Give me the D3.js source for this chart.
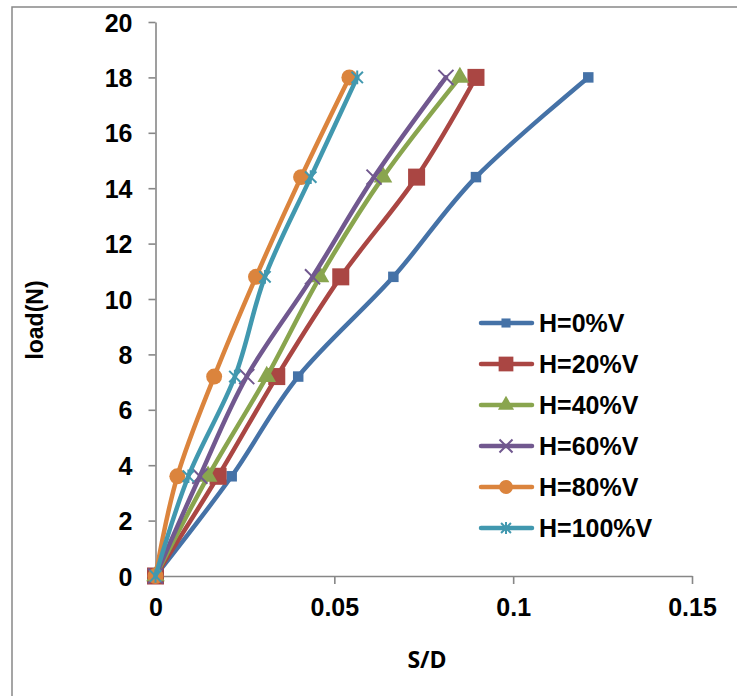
<!DOCTYPE html>
<html>
<head>
<meta charset="utf-8">
<script src="https://cdn.jsdelivr.net/npm/d3@7"></script>
<style>
  body { margin: 0; background: #fff; }
  text { font-family: "Liberation Sans", Arial, sans-serif; font-weight: bold; }
</style>
</head>
<body>
<div id="chart"></div>
<script>
// datos
var loads = [0, 3.6, 7.2, 10.8, 14.4, 18.0]
var seriesNames = ["H=0%V", "H=20%V", "H=40%V", "H=60%V", "H=80%V", "H=100%V"]
var sd0   = [0, 0.0213, 0.0399, 0.0665, 0.0896, 0.1210]
var sd20  = [0, 0.0175, 0.0339, 0.0518, 0.0730, 0.0896]
var sd40  = [0, 0.0147, 0.0311, 0.0460, 0.0636, 0.0851]
var sd60  = [0, 0.0124, 0.0255, 0.0439, 0.0611, 0.0812]
var sd80  = [0, 0.0061, 0.0164, 0.0281, 0.0407, 0.0542]
var sd100 = [0, 0.0092, 0.0222, 0.0306, 0.0434, 0.0564]
var xTicks = [0, 0.05, 0.1, 0.15]
var yTicks = [0, 2, 4, 6, 8, 10, 12, 14, 16, 18, 20]

var colors = ["#4572A7", "#AA4643", "#89A54E", "#71588F", "#DB843D", "#4198AF"]

// simbolo estrella de Excel (X con linea vertical)
var symbolStar = {
  draw: function (ctx, size) {
    var r = Math.sqrt(size) / 2
    ctx.moveTo(-r, -r); ctx.lineTo(r, r)
    ctx.moveTo(r, -r); ctx.lineTo(-r, r)
    ctx.moveTo(0, -r * 1.2); ctx.lineTo(0, r * 1.2)
  }
}
var markers = [
  { type: d3.symbolSquare, size: 110, stroke: false },
  { type: d3.symbolSquare, size: 290, stroke: false },
  { type: d3.symbolTriangle, size: 150, stroke: false },
  { type: d3.symbolX, size: 150, stroke: true },
  { type: d3.symbolCircle, size: 200, stroke: false },
  { type: symbolStar, size: 130, stroke: true }
]

var allSd = [sd0, sd20, sd40, sd60, sd80, sd100]
var series = seriesNames.map(function (n, i) {
  return { name: n, values: allSd[i].map(function (v, j) { return { x: v, y: loads[j] } }) }
})

//Crea Lienzo
var width = 737
var height = 696
var svg = d3.select("#chart").append("svg")
            .attr("width", width)
            .attr("height", height)

// marco exterior
svg.append("rect")
   .attr("x", 12).attr("y", 7)
   .attr("width", 760).attr("height", 720)
   .attr("fill", "none")
   .attr("stroke", "#888")
   .attr("stroke-width", 1.5)

//Escalas
var scaleX = d3.scaleLinear().domain([0, 0.15]).range([155.5, 692])
var scaleY = d3.scaleLinear().domain([0, 20]).range([576, 22])

//Eje X
var xAxis = svg.append("g")
               .attr("transform", "translate(0," + scaleY(0) + ")")
               .call(d3.axisBottom(scaleX).tickValues(xTicks).tickSize(8).tickSizeOuter(0).tickPadding(14)
                       .tickFormat(function (d) { return String(d) }))
//Eje Y
var yAxis = svg.append("g")
               .attr("transform", "translate(" + scaleX(0) + ",0)")
               .call(d3.axisLeft(scaleY).tickValues(yTicks).tickSize(7).tickSizeOuter(0).tickPadding(16)
                       .tickFormat(d3.format("d")))

svg.selectAll(".domain, .tick line").attr("stroke", "#878787").attr("stroke-width", 1.6)
xAxis.selectAll("text").style("font-size", "25px").attr("fill", "#000")
yAxis.selectAll("text").style("font-size", "25px").attr("fill", "#000").attr("dy", "0.36em")

//Lineas
var line = d3.line()
             .x(function (d) { return scaleX(d.x) })
             .y(function (d) { return scaleY(d.y) })
             .curve(d3.curveCardinal.tension(0))

series.forEach(function (s, i) {
  var g = svg.append("g")
  g.append("path")
   .attr("d", line(s.values))
   .attr("fill", "none")
   .attr("stroke", colors[i])
   .attr("stroke-width", 4.5)
   .attr("stroke-linejoin", "round")
   .attr("stroke-linecap", "round")
  var m = markers[i]
  g.selectAll("path.mk")
   .data(s.values)
   .enter()
   .append("path")
   .attr("class", "mk")
   .attr("transform", function (d) { return "translate(" + scaleX(d.x) + "," + scaleY(d.y) + ")" })
   .attr("d", d3.symbol().type(m.type).size(m.size))
   .attr("fill", m.stroke ? "none" : colors[i])
   .attr("stroke", m.stroke ? colors[i] : "none")
   .attr("stroke-width", 2)
})

//Leyenda
var legend = svg.append("g")
series.forEach(function (s, i) {
  var y = 323 + i * 41
  var m = markers[i]
  legend.append("line")
        .attr("x1", 481).attr("x2", 532)
        .attr("y1", y).attr("y2", y)
        .attr("stroke", colors[i])
        .attr("stroke-width", 4.5)
        .attr("stroke-linecap", "round")
  legend.append("path")
        .attr("transform", "translate(506," + y + ")")
        .attr("d", d3.symbol().type(m.type).size(m.size * 0.75))
        .attr("fill", m.stroke ? "none" : colors[i])
        .attr("stroke", m.stroke ? colors[i] : "none")
        .attr("stroke-width", 2)
  legend.append("text")
        .attr("x", 539).attr("y", y + 9)
        .style("font-size", "25px")
        .text(s.name)
})

//Titulos de ejes
svg.append("text")
   .attr("x", 427).attr("y", 668)
   .style("text-anchor", "middle")
   .style("font-family", "'Open Sans', sans-serif")
   .style("font-size", "23px")
   .text("S/D")

svg.append("text")
   .attr("transform", "translate(43,320) rotate(-90)")
   .style("text-anchor", "middle")
   .style("font-size", "23px")
   .text("load(N)")
</script>
</body>
</html>
